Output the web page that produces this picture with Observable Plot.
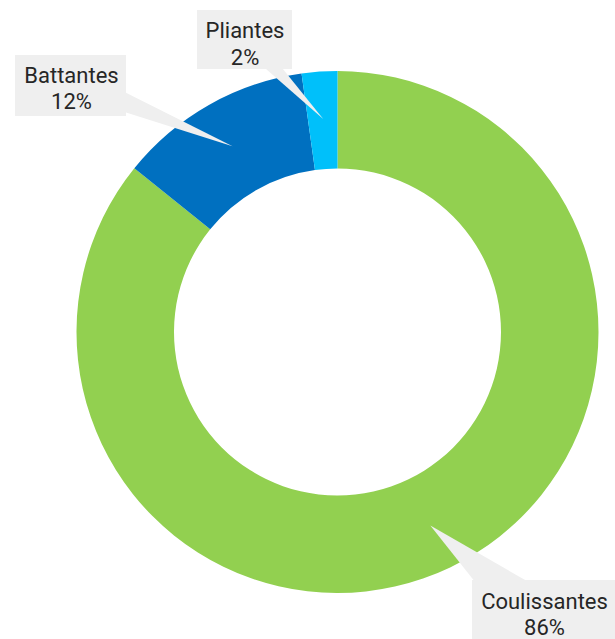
<!DOCTYPE html>
<html>
<head>
<meta charset="utf-8">
<script src="https://cdn.jsdelivr.net/npm/d3@7"></script>
<script src="https://cdn.jsdelivr.net/npm/@observablehq/plot@0.6"></script>
<style>
  html, body { margin: 0; padding: 0; background: #ffffff; }
  #chart { width: 615px; height: 639px; overflow: hidden; }
</style>
</head>
<body>
<div id="chart"></div>
<script>
// ---- data ----
const categories = ["Coulissantes", "Battantes", "Pliantes"];
const values = [85.8, 12.0, 2.2];
const pctLabels = ["86%", "12%", "2%"];
const colors = ["#92d050", "#0070c0", "#00c0fa"];

// ---- layout (pixels) ----
const W = 615, H = 639;
const center = {x: 337.5, y: 332};
const rOuter = 261, rInner = 163.5, rTip = 214;
const labelBoxes = [
  {x1: 472, x2: 624, y1: 580, y2: 650},
  {x1: 15, x2: 126, y1: 55, y2: 116},
  {x1: 197, x2: 292, y1: 10, y2: 69}
];
const labelCenters = [
  {x: 544, y: 613},
  {x: 71, y: 87},
  {x: 244.5, y: 42.5}
];
const wedgeBases = [
  [[475, 582], [529, 582]],
  [[124, 91.5], [124, 111.5]],
  [[265, 68], [282, 68]]
];

const table = categories.map((name, i) => ({name, value: values[i], pct: pctLabels[i]}));
const colorScale = Plot.scale({color: {type: "ordinal", domain: categories, range: colors}});
const arcs = d3.pie().sort(null).value(d => d.value)(table);

const tips = arcs.map(a => {
  const m = (a.startAngle + a.endAngle) / 2;
  return {x: center.x + rTip * Math.sin(m), y: center.y - rTip * Math.cos(m)};
});

const wedgePoints = [];
table.forEach((d, i) => {
  const [b1, b2] = wedgeBases[i];
  wedgePoints.push({k: d.name, x: b1[0], y: b1[1]});
  wedgePoints.push({k: d.name, x: tips[i].x, y: tips[i].y});
  wedgePoints.push({k: d.name, x: b2[0], y: b2[1]});
});

const boxes = table.map((d, i) => ({name: d.name, ...labelBoxes[i]}));
const texts = table.map((d, i) => ({text: d.name + "\n" + d.pct, ...labelCenters[i]}));

function donut(index, scales) {
  const cx = scales.x(center.x), cy = scales.y(center.y);
  const k = scales.x(center.x + 1) - scales.x(center.x);
  const arc = d3.arc().innerRadius(rInner * k).outerRadius(rOuter * k);
  const g = d3.create("svg:g").attr("transform", `translate(${cx},${cy})`);
  g.selectAll("path").data(arcs).join("path")
    .attr("d", arc)
    .attr("fill", d => colorScale.apply(d.data.name));
  return g.node();
}

const chart = Plot.plot({
  width: W,
  height: H,
  margin: 0,
  style: {fontFamily: "Roboto, sans-serif", background: "#ffffff", overflow: "hidden"},
  x: {domain: [0, W], range: [0, W], axis: null},
  y: {domain: [0, H], range: [0, H], axis: null},
  marks: [
    donut,
    Plot.line(wedgePoints, {x: "x", y: "y", z: "k", fill: "#efefef", stroke: null}),
    Plot.rect(boxes, {x1: "x1", x2: "x2", y1: "y1", y2: "y2", fill: "#efefef"}),
    Plot.text(texts, {x: "x", y: "y", text: "text", fontSize: 22, lineHeight: 1.2,
      textAnchor: "middle", lineAnchor: "middle", fill: "#262626"})
  ]
});
document.getElementById("chart").append(chart);
</script>
</body>
</html>
